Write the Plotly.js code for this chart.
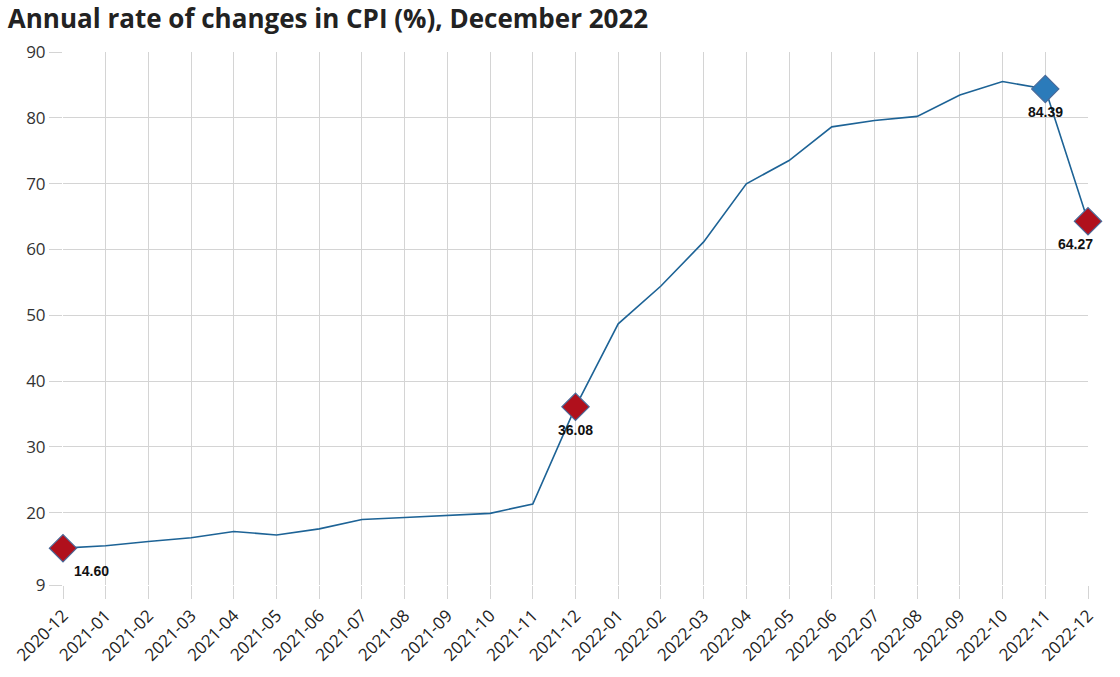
<!DOCTYPE html>
<html>
<head>
<meta charset="utf-8">
<script src="https://cdn.plot.ly/plotly-3.0.1.min.js"></script>
<style>html,body{margin:0;padding:0;background:#fff;}#chart{width:1120px;height:677px;}</style>
</head>
<body>
<div id="chart"></div>
<script>
const months = ["2020-12","2021-01","2021-02","2021-03","2021-04","2021-05","2021-06","2021-07","2021-08","2021-09","2021-10","2021-11","2021-12","2022-01","2022-02","2022-03","2022-04","2022-05","2022-06","2022-07","2022-08","2022-09","2022-10","2022-11","2022-12"];
const cpi = [14.60,14.97,15.61,16.19,17.14,16.59,17.53,18.95,19.25,19.58,19.89,21.31,36.08,48.69,54.44,61.14,69.97,73.50,78.62,79.60,80.21,83.45,85.51,84.39,64.27];
const highlightIdx = [0,12,23,24];
const highlightColors = ["#b0101c","#b0101c","#2b7bba","#b0101c"];
const labelShift = [28,0,0,-13];
const yTicks = [9,20,30,40,50,60,70,80,90];

const hx = highlightIdx.map(i => months[i]);
const hy = highlightIdx.map(i => cpi[i]);

const traces = [
  {x: months, y: cpi, type: "scatter", mode: "lines", cliponaxis: false,
   line: {color: "#1d6396", width: 1.6}, hoverinfo: "x+y"},
  {x: hx, y: hy, type: "scatter", mode: "markers", cliponaxis: false,
   marker: {symbol: "diamond", size: 21, color: highlightColors,
            line: {color: "#4a6a99", width: 1.2}}, hoverinfo: "x+y"}
];

const annotations = highlightIdx.map((i, k) => ({
  x: months[i], y: cpi[i], xref: "x", yref: "y",
  text: cpi[i].toFixed(2), showarrow: false,
  xshift: labelShift[k], yshift: -23,
  font: {family: "Arial, Liberation Sans, sans-serif", size: 14, color: "#111", weight: "bold"}
}));

const gridCol = "#d4d4d4";
const layout = {
  width: 1120, height: 677,
  paper_bgcolor: "#fff", plot_bgcolor: "#fff",
  margin: {l: 63, r: 32, t: 52, b: 92},
  showlegend: false,
  title: {text: "<b>Annual rate of changes in CPI (%), December 2022</b>",
          x: 0.007, xanchor: "left", y: 0.972, yanchor: "middle",
          font: {family: "Open Sans, sans-serif", size: 26, color: "#222"}},
  xaxis: {type: "category", range: [0, 24], showgrid: true, gridcolor: gridCol, gridwidth: 1,
          ticks: "outside", ticklen: 13, tickcolor: gridCol, tickangle: -45,
          tickfont: {family: "Open Sans, sans-serif", size: 17, color: "#222"},
          zeroline: false, showline: false, fixedrange: true},
  yaxis: {range: [9, 90], tickmode: "array", tickvals: yTicks, ticktext: yTicks.map(String),
          showgrid: true, gridcolor: gridCol, gridwidth: 1,
          ticks: "outside", ticklen: 13, tickcolor: gridCol,
          tickfont: {family: "Open Sans, sans-serif", size: 17, color: "#333"},
          zeroline: false, showline: false, fixedrange: true},
  annotations: annotations
};

Plotly.newPlot("chart", traces, layout, {displayModeBar: false});
</script>
</body>
</html>
